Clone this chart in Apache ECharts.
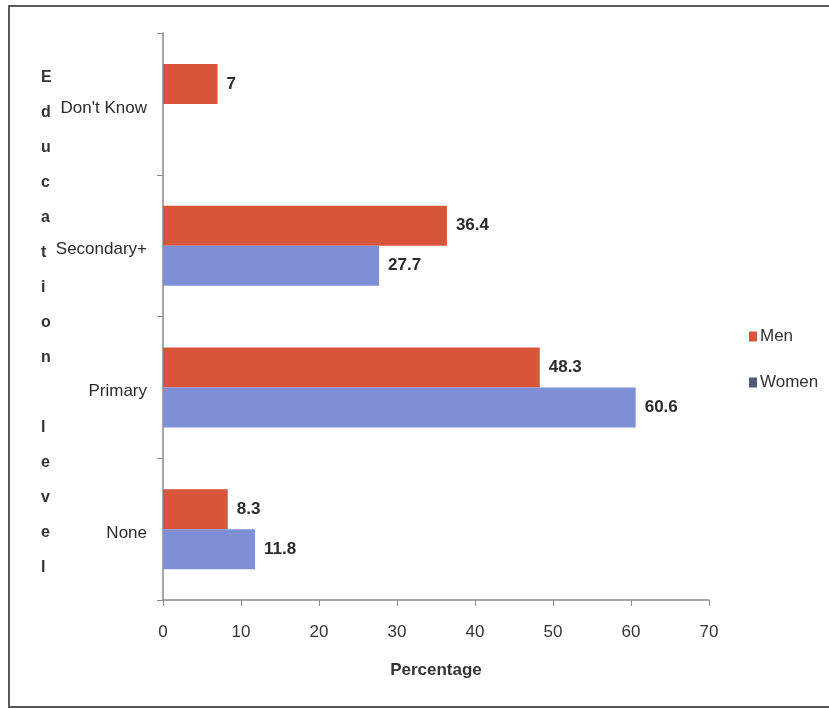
<!DOCTYPE html>
<html>
<head>
<meta charset="utf-8">
<script src="https://cdn.jsdelivr.net/npm/echarts@6/dist/echarts.min.js"></script>
<style>html,body{margin:0;padding:0;background:#fff}#c{width:829px;height:709px}</style>
</head>
<body>
<div id="c"></div>
<script>
const categories = ['None', 'Primary', 'Secondary+', "Don't Know"];
const menValues = [8.3, 48.3, 36.4, 7];
const womenValues = [11.8, 60.6, 27.7, null];
const xTicks = [0, 10, 20, 30, 40, 50, 60, 70];
const yTitleLetters = ['E','d','u','c','a','t','i','o','n',' ','l','e','v','e','l'];

const FONT = "'Liberation Sans Narrow', 'Liberation Sans', sans-serif";
const chart = echarts.init(document.getElementById('c'));
const lbl = {
  show: true, position: 'right', distance: 9,
  fontFamily: FONT, fontSize: 17, color: '#2b2b2b', fontWeight: 'bold'
};
chart.setOption({
  animation: false,
  backgroundColor: '#fff',
  grid: { left: 163, right: 120, top: 33, bottom: 109, containLabel: false },
  legend: {
    orient: 'vertical', left: 744, top: 323,
    itemWidth: 8, itemHeight: 10, itemGap: 29,
    icon: 'rect',
    textStyle: { fontFamily: FONT, fontSize: 17, color: '#333', padding: [0, 0, 0, -2] },
    data: [
      { name: 'Men', itemStyle: { color: '#d9553a' } },
      { name: 'Women', itemStyle: { color: '#4e5a76' } }
    ]
  },
  xAxis: {
    type: 'value', min: xTicks[0], max: xTicks[xTicks.length - 1], interval: 10,
    name: 'Percentage', nameLocation: 'middle', nameGap: 62,
    nameTextStyle: { fontFamily: FONT, fontSize: 17, fontWeight: 'bold', color: '#333' },
    axisLine: { show: true, lineStyle: { color: '#8a8a8a', width: 1.5 } },
    axisTick: { show: true, length: 6, lineStyle: { color: '#8a8a8a' } },
    axisLabel: { fontFamily: FONT, fontSize: 17, color: '#333', margin: 24 },
    splitLine: { show: false }
  },
  yAxis: {
    type: 'category', data: categories,
    axisLine: { show: true, lineStyle: { color: '#8a8a8a', width: 1.5 } },
    axisTick: { show: true, length: 6, lineStyle: { color: '#8a8a8a' } },
    axisLabel: { fontFamily: FONT, fontSize: 17, color: '#2b2b2b', margin: 16,
      verticalAlign: 'top', lineHeight: 20, padding: [-6, 0, 0, 0] }
  },
  series: [
    {
      name: 'Men', type: 'bar', data: menValues, barWidth: 40, barGap: '0%',
      itemStyle: { color: '#d9553a' }, label: lbl
    },
    {
      name: 'Women', type: 'bar', data: womenValues, barWidth: 40, barGap: '0%',
      itemStyle: { color: '#7e8fd6' }, label: lbl
    }
  ],
  graphic: [
    { type: 'rect', shape: { x: 9, y: 6, width: 840, height: 701 },
      style: { fill: 'none', stroke: '#5a5a5a', lineWidth: 2 }, silent: true },
    { type: 'text', left: 41, top: 60,
      style: { text: yTitleLetters.join('\n'), fontFamily: FONT, fontSize: 16,
        fontWeight: 'bold', fill: '#333', lineHeight: 35, align: 'center' } }
  ]
});
</script>
</body>
</html>
